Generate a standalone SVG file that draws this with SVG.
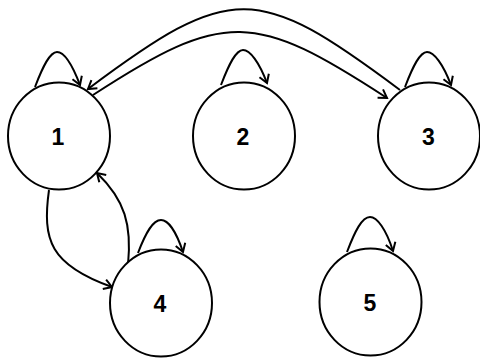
<svg xmlns="http://www.w3.org/2000/svg" width="480" height="358" viewBox="0 0 480 358">
<style>
.node ellipse{fill:#fff;stroke:#000;stroke-width:2}
.node text{font-family:"Liberation Sans",Arial,sans-serif;font-weight:bold;font-size:23px;text-anchor:middle;fill:#000}
.edge{fill:none;stroke:#000;stroke-width:2;marker-end:url(#arr)}
</style>
<defs>
<marker id="arr" markerUnits="userSpaceOnUse" markerWidth="14" markerHeight="14" refX="0" refY="0" viewBox="-11 -7 14 14" orient="auto" overflow="visible">
<path d="M-8,-5 L0,0 L-8,5" fill="none" stroke="#000" stroke-width="2" stroke-linejoin="miter"/>
</marker>
</defs>
<rect width="480" height="358" fill="#fff"/>
<g id="connectors">
<path class="edge" d="M400,90 C257,-17 231,-18 88,89"/>
<path class="edge" d="M93,95 C225,9 255,12 387,98"/>
<path class="edge" d="M49,190 C42,240 50,265 112,287"/>
<path class="edge" d="M128,265 C132,225 125,200 97,173"/>
<path class="edge" d="M35,87 C43,66 50,52 57,52 C64,52 72,64 80,85"/>
<path class="edge" d="M221,85 C229,64 236,50 243,50 C250,50 259,62 267,83"/>
<path class="edge" d="M405,87 C413,66 420,52 427,52 C434,52 443,64 451,85"/>
<path class="edge" d="M138,253 C146,232 153,220 161,220 C168,220 176,231 183,252"/>
<path class="edge" d="M347,252 C355,231 362,217 370,217 C377,217 386,229 393,251"/>
</g>
<g id="node1" class="node"><ellipse cx="59" cy="136" rx="51" ry="53.5"/><text x="58" y="144.5">1</text></g>
<g id="node2" class="node"><ellipse cx="244" cy="136" rx="51" ry="53.5"/><text x="243" y="144.5">2</text></g>
<g id="node3" class="node"><ellipse cx="429" cy="136" rx="51" ry="53.5"/><text x="428.5" y="144.5">3</text></g>
<g id="node4" class="node"><ellipse cx="161" cy="303" rx="51" ry="53.5"/><text x="160" y="312">4</text></g>
<g id="node5" class="node"><ellipse cx="370.5" cy="302" rx="51" ry="53.5"/><text x="370" y="311">5</text></g>
</svg>
